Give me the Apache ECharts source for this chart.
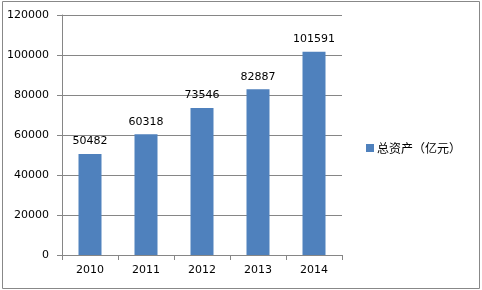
<!DOCTYPE html>
<html>
<head>
<meta charset="utf-8">
<script src="https://cdn.jsdelivr.net/npm/echarts@6/dist/echarts.min.js"></script>
<style>html,body{margin:0;padding:0;background:#fff}#c{width:482px;height:290px}</style>
</head>
<body>
<div id="c"></div>
<script>
var categories = ['2010', '2011', '2012', '2013', '2014'];
var totalAssets = [50482, 60318, 73546, 82887, 101591];
var seriesName = '总资产（亿元）';
var yTicks = [0, 20000, 40000, 60000, 80000, 100000, 120000];

var chart = echarts.init(document.getElementById('c'), null, {renderer: 'canvas'});
var axisColor = '#868686';
chart.setOption({
  animation: false,
  textStyle: {fontFamily: 'DejaVu Sans'},
  grid: {left: 62, right: 140, top: 15, bottom: 35},
  legend: {
    data: [seriesName], left: 361, top: 137, icon: 'rect', itemWidth: 8, itemHeight: 8,
    textStyle: {fontFamily: '"Noto Sans CJK SC"', fontSize: 12, color: '#000', padding: [0, 0, 0, -2]}
  },
  xAxis: {
    type: 'category', data: categories,
    axisLine: {lineStyle: {color: axisColor}},
    axisTick: {show: true, length: 5, lineStyle: {color: axisColor}},
    axisLabel: {color: '#000', fontSize: 11, margin: 10}
  },
  yAxis: {
    type: 'value', min: yTicks[0], max: yTicks[yTicks.length - 1], interval: yTicks[1] - yTicks[0],
    axisLine: {show: true, lineStyle: {color: axisColor}},
    axisTick: {show: true, length: 5, lineStyle: {color: axisColor}},
    splitLine: {lineStyle: {color: axisColor}},
    axisLabel: {color: '#000', fontSize: 11, margin: 13, formatter: function (v) { return String(v); }}
  },
  series: [{
    name: seriesName, type: 'bar', data: totalAssets, barWidth: 23,
    itemStyle: {color: '#4F81BD'},
    label: {show: true, position: 'top', distance: 7, color: '#000', fontSize: 11}
  }],
  graphic: [{
    type: 'rect', shape: {x: 2.5, y: 1.5, width: 477, height: 287},
    style: {fill: null, stroke: '#888', lineWidth: 1}
  }]
});
</script>
</body>
</html>
